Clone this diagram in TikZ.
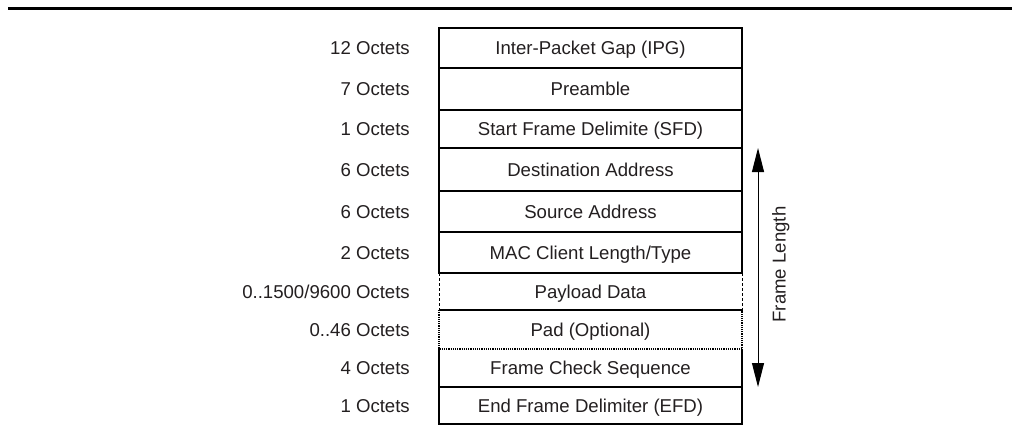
\documentclass[tikz,border=0pt]{standalone}
\usepackage{fontspec}
\setmainfont{Liberation Sans}
\usetikzlibrary{positioning,arrows.meta}
\definecolor{inkgray}{HTML}{231F20}
\tikzset{
  row/.style={minimum width=303pt, inner sep=0pt, outer sep=0pt,
    text height=13.3pt, text depth=0pt, line width=1.2pt},
  field/.style={row, draw},
  octets/.style={inner sep=0pt, text height=13.3pt, text depth=0pt},
  dotline/.style={line width=1.2pt, densely dotted},
  dashline/.style={line width=0.8pt, densely dashed},
  lenarrow/.style={line width=1pt,
    {Triangle[length=24pt,width=12pt]}-{Triangle[length=24pt,width=12pt]}},
}
\begin{document}
\begin{tikzpicture}[x=1pt, y=-1pt, font=\fontsize{18.6}{22}\selectfont, text=inkgray]
	\useasboundingbox (0,0) rectangle (1018,437);
	\draw[line width=3pt] (8,8) -- (1012,8);
	% frame fields
	\node[field, minimum height=40pt] (ipg) at (590.5,48) {Inter-Packet Gap (IPG)};
	\node[field, minimum height=42pt, below=0pt of ipg] (pre) {Preamble};
	\node[field, minimum height=38pt, below=0pt of pre] (sfd) {Start Frame Delimite (SFD)};
	\node[field, minimum height=43pt, below=0pt of sfd] (dst) {Destination Address};
	\node[field, minimum height=41pt, below=0pt of dst] (src) {Source Address};
	\node[field, minimum height=41pt, below=0pt of src] (mac) {MAC Client Length/Type};
	\node[row, minimum height=37pt, below=0pt of mac] (pay) {Payload Data};
	\node[row, minimum height=39pt, below=0pt of pay] (pad) {Pad (Optional)};
	\node[row, minimum height=38pt, below=0pt of pad] (fcs) {Frame Check Sequence};
	\node[field, minimum height=37pt, below=0pt of fcs] (efd) {End Frame Delimiter (EFD)};
	\draw[dashline] (pay.north west) -- (pay.south west);
	\draw[dashline] (pay.north east) -- (pay.south east);
	\draw[line width=1.2pt] (pay.south west) -- (pay.south east);
	\draw[dotline] (pad.north west) -- (pad.south west) -- (pad.south east) -- (pad.north east);
	\draw[line width=1.2pt] (fcs.north west) -- (fcs.south west);
	\draw[line width=1.2pt] (fcs.north east) -- (fcs.south east);
	% sizes
	\node[octets, left=29pt of ipg] (ipgsize) {12 Octets};
	\node[octets, left=29pt of pre] (presize) {7 Octets};
	\node[octets, left=29pt of sfd] (sfdsize) {1 Octets};
	\node[octets, left=29pt of dst] (dstsize) {6 Octets};
	\node[octets, left=29pt of src] (srcsize) {6 Octets};
	\node[octets, left=29pt of mac] (macsize) {2 Octets};
	\node[octets, left=29pt of pay] (paysize) {0..1500/9600 Octets};
	\node[octets, left=29pt of pad] (padsize) {0..46 Octets};
	\node[octets, left=29pt of fcs] (fcssize) {4 Octets};
	\node[octets, left=29pt of efd] (efdsize) {1 Octets};
	% frame length
	\coordinate (lenx) at (758,0);
	\draw[lenarrow] (lenx |- dst.north) -- (lenx |- fcs.south);
	\node[octets, rotate=90] (lenlabel) at (779,264.5) {Frame Length};
\end{tikzpicture}
\end{document}
